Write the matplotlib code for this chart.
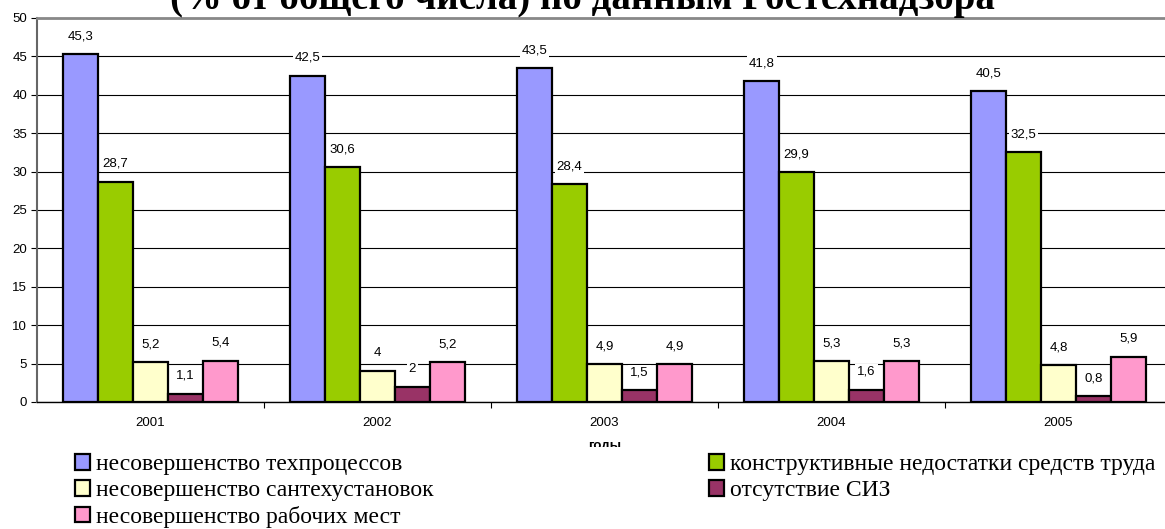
import matplotlib.pyplot as plt
import matplotlib.patches as mpatches
import numpy as np

plt.rcParams['font.family'] = 'Liberation Sans'
plt.rcParams['font.size'] = 10

# данные
years = ['2001', '2002', '2003', '2004', '2005']
series_names = ['несовершенство техпроцессов',
                'конструктивные недостатки средств труда',
                'несовершенство сантехустановок',
                'отсутствие СИЗ',
                'несовершенство рабочих мест']
tech = [45.3, 42.5, 43.5, 41.8, 40.5]
constr = [28.7, 30.6, 28.4, 29.9, 32.5]
santeh = [5.2, 4.0, 4.9, 5.3, 4.8]
siz = [1.1, 2.0, 1.5, 1.6, 0.8]
rab = [5.4, 5.2, 4.9, 5.3, 5.9]
colors = ['#9999FF', '#99CC00', '#FFFFCC', '#993366', '#FF99CC']

fig = plt.figure(figsize=(11.65, 5.29), dpi=100)
ax = fig.add_axes([37/1165, 1-402/529, 1135/1165, (402-18)/529])

x = np.arange(len(years))
w = 0.154
handles = []
for i, vals in enumerate([tech, constr, santeh, siz, rab]):
    pos = x + (i - 2) * w
    b = ax.bar(pos, vals, w, color=colors[i], edgecolor='black', linewidth=1.6, zorder=3,
               label=series_names[i])
    handles.append(b)
    for px, v in zip(pos, vals):
        s = ('%g' % v).replace('.', ',')
        ax.annotate(s, (px, v), xytext=(0, 8.5), textcoords='offset points',
                    ha='center', va='bottom', fontsize=9.5, zorder=4,
                    bbox=dict(boxstyle='square,pad=0.15', fc='white', ec='none'))

ax.set_xlim(-0.5, 4.5)
ax.set_ylim(0, 50)
ax.set_yticks(np.arange(0, 51, 5))
ax.yaxis.grid(True, color='black', linewidth=0.8, zorder=0)
ax.set_axisbelow(True)
ax.set_xticks([0.5, 1.5, 2.5, 3.5])
ax.set_xticklabels([])
ax.set_xticks(x, minor=True)
ax.set_xticklabels(years, minor=True)
ax.tick_params(axis='x', which='minor', length=0, pad=11, labelsize=9.5)
ax.tick_params(axis='x', which='major', length=4, direction='out')
ax.tick_params(axis='y', length=4, direction='out', pad=3, labelsize=9.5)
ax.spines['right'].set_visible(False)
ax.spines['top'].set_color('#888888')
ax.spines['top'].set_linewidth(2)
ax.spines['left'].set_color('#666666')
ax.spines['left'].set_linewidth(1.5)
ax.spines['bottom'].set_linewidth(1)
ax.set_xlabel('годы', fontweight='bold', fontsize=9.5, labelpad=8)

# заголовок (в оригинале обрезан сверху)
fig.text(0.5, 1-9/529, '(% от общего числа) по данным Ростехнадзора',
         ha='center', va='baseline', fontsize=28, fontweight='bold', family='Liberation Serif')

# белая полоса под легендой (обрезает подпись оси)
fig.patches.append(mpatches.Rectangle((0, 0), 1, 1-447/529, transform=fig.transFigure,
                                      fc='white', ec='none', zorder=3))

order = [0, 2, 4, 1, 3]
leg = fig.legend([handles[i] for i in order], [series_names[i] for i in order],
                 ncol=2, loc='upper left', bbox_to_anchor=(75/1165, 1-454/529),
                 frameon=False, prop={'family': 'Liberation Serif', 'size': 17},
                 handlelength=0.65, handleheight=0.65, handletextpad=0.25,
                 labelspacing=0.2, columnspacing=11.65, borderpad=0, borderaxespad=0)
leg.set_zorder(5)

plt.savefig('out.png', dpi=100)
